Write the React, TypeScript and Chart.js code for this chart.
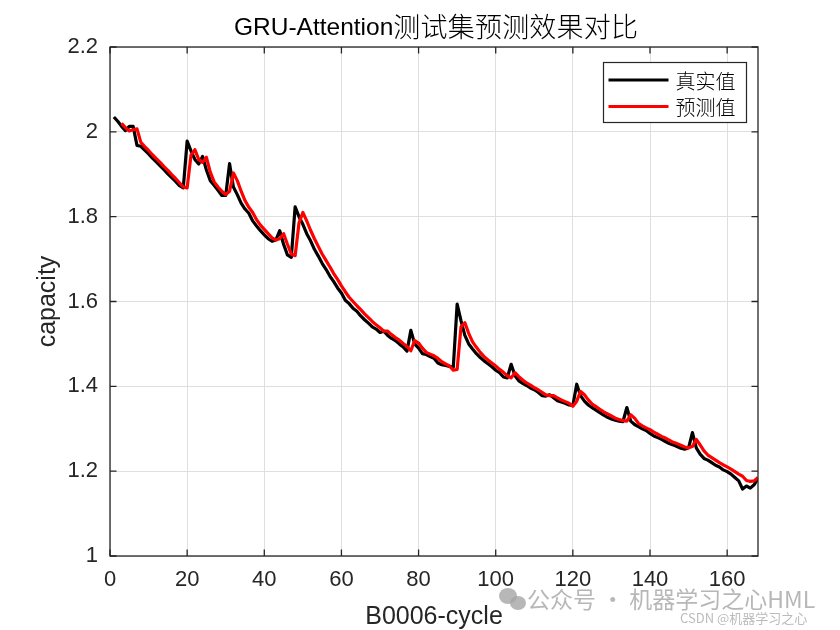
import React, { useEffect, useRef } from "react";
import { Chart, registerables } from "chart.js";

Chart.register(...registerables);

// ---------------- data ----------------
const titleLatin = "GRU-Attention";
const titleCJK = "测试集预测效果对比";
const xAxisLabel = "B0006-cycle";
const yAxisLabel = "capacity";
const seriesNames = ["真实值", "预测值"];
const xRange = [0, 168];
const yRange = [1, 2.2];
const xTickStep = 20;
const yTickStep = 0.2;

const trueCapacity = [
  2.035, 2.025, 2.013, 2.003, 2.013, 2.013, 1.968, 1.966, 1.957, 1.948,
  1.938, 1.929, 1.920, 1.911, 1.901, 1.892, 1.883, 1.873, 1.868, 1.978,
  1.955, 1.935, 1.924, 1.942, 1.910, 1.885, 1.874, 1.862, 1.850, 1.850,
  1.925, 1.870, 1.852, 1.832, 1.818, 1.808, 1.790, 1.778, 1.767, 1.757,
  1.748, 1.742, 1.745, 1.767, 1.735, 1.710, 1.704, 1.823, 1.800, 1.782,
  1.760, 1.743, 1.723, 1.707, 1.690, 1.676, 1.660, 1.647, 1.632, 1.620,
  1.603, 1.595, 1.584, 1.577, 1.566, 1.557, 1.549, 1.540, 1.535, 1.527,
  1.530, 1.520, 1.513, 1.508, 1.500, 1.493, 1.483, 1.532, 1.500, 1.490,
  1.477, 1.475, 1.470, 1.466, 1.455, 1.451, 1.449, 1.447, 1.445, 1.594,
  1.555, 1.520, 1.500, 1.488, 1.477, 1.468, 1.460, 1.453, 1.446, 1.438,
  1.432, 1.422, 1.420, 1.452, 1.425, 1.413, 1.407, 1.402, 1.396, 1.392,
  1.386, 1.378, 1.377, 1.380, 1.373, 1.366, 1.363, 1.360, 1.356, 1.355,
  1.405, 1.378, 1.365, 1.356, 1.350, 1.344, 1.338, 1.332, 1.327, 1.323,
  1.320, 1.318, 1.317, 1.350, 1.318, 1.310, 1.305, 1.300, 1.296, 1.289,
  1.283, 1.279, 1.275, 1.270, 1.265, 1.262, 1.258, 1.254, 1.252, 1.255,
  1.291, 1.255, 1.240, 1.230, 1.226, 1.220, 1.214, 1.210, 1.203, 1.199,
  1.193, 1.185, 1.177, 1.158, 1.165, 1.160, 1.168, 1.183,
];

const predStartCycle = 3;
const predCapacity = [
  2.020, 2.010, 2.002, 2.005, 2.007, 1.975, 1.965, 1.956,
  1.946, 1.937, 1.928, 1.918, 1.909, 1.899, 1.890, 1.880, 1.870, 1.868,
  1.945, 1.958, 1.935, 1.928, 1.940, 1.905, 1.882, 1.870, 1.860, 1.852,
  1.860, 1.903, 1.885, 1.860, 1.838, 1.822, 1.810, 1.793, 1.780, 1.770,
  1.760, 1.750, 1.745, 1.748, 1.760, 1.735, 1.712, 1.708, 1.785, 1.810,
  1.790, 1.768, 1.748, 1.730, 1.712, 1.697, 1.682, 1.666, 1.652, 1.637,
  1.623, 1.610, 1.600, 1.590, 1.581, 1.571, 1.562, 1.553, 1.545, 1.538,
  1.530, 1.530, 1.522, 1.515, 1.509, 1.501, 1.494, 1.484, 1.508, 1.502,
  1.490, 1.480, 1.476, 1.472, 1.466, 1.458, 1.453, 1.448, 1.438, 1.440,
  1.540, 1.550, 1.525, 1.505, 1.492, 1.480, 1.470, 1.462, 1.455, 1.448,
  1.440, 1.433, 1.425, 1.420, 1.432, 1.423, 1.415, 1.408, 1.403, 1.397,
  1.392, 1.386, 1.380, 1.378, 1.378, 1.373, 1.368, 1.364, 1.360, 1.353,
  1.365, 1.388, 1.380, 1.368, 1.358, 1.352, 1.346, 1.340, 1.335, 1.330,
  1.325, 1.322, 1.319, 1.318, 1.333, 1.325, 1.313, 1.307, 1.302, 1.298,
  1.292, 1.287, 1.282, 1.278, 1.273, 1.268, 1.265, 1.261, 1.257, 1.255,
  1.258, 1.275, 1.262, 1.248, 1.238, 1.232, 1.226, 1.220, 1.215, 1.210,
  1.205, 1.199, 1.193, 1.188, 1.178, 1.176, 1.177, 1.185,
];

const watermarkMain = "公众号 · 机器学习之心HML";
const watermarkSmall = "CSDN @机器学习之心";

// ---------------- styles ----------------
const AXIS_COLOR = "#262626";
const GRID_COLOR = "#dfdfdf";
const LATIN = '"Liberation Sans", Arial, sans-serif';
const CJK = '"Noto Sans CJK SC", "Noto Sans", sans-serif';

const titlePlugin = {
  id: "matlabTitle",
  afterDraw(chart: any) {
    const { ctx, chartArea: a } = chart;
    ctx.save();
    ctx.fillStyle = "#000";
    ctx.textBaseline = "alphabetic";
    ctx.textAlign = "left";
    ctx.font = `24.5px ${LATIN}`;
    const latinW = ctx.measureText(titleLatin).width;
    const cjkAdv = 27.2;
    const totalW = latinW + cjkAdv * titleCJK.length;
    const cx = (a.left + a.right) / 2 + 2;
    let x = cx - totalW / 2;
    const baseY = 35;
    ctx.fillText(titleLatin, x, baseY);
    x += latinW;
    ctx.font = `300 27px ${CJK}`;
    for (const ch of titleCJK) {
      const w = ctx.measureText(ch).width;
      ctx.fillText(ch, x + (cjkAdv - w) / 2, baseY + 2);
      x += cjkAdv;
    }
    ctx.restore();
  },
};

const framePlugin = {
  id: "matlabFrame",
  afterDraw(chart: any) {
    const { ctx, chartArea: a, scales } = chart;
    const xs = scales.x;
    const ys = scales.y;
    ctx.save();
    ctx.strokeStyle = AXIS_COLOR;
    ctx.lineWidth = 1.3;
    ctx.strokeRect(a.left, a.top, a.right - a.left, a.bottom - a.top);
    const L = 6.5;
    ctx.beginPath();
    xs.ticks.forEach((t: any) => {
      const px = xs.getPixelForValue(t.value);
      ctx.moveTo(px, a.bottom);
      ctx.lineTo(px, a.bottom - L);
      ctx.moveTo(px, a.top);
      ctx.lineTo(px, a.top + L);
    });
    ys.ticks.forEach((t: any) => {
      const py = ys.getPixelForValue(t.value);
      ctx.moveTo(a.left, py);
      ctx.lineTo(a.left + L, py);
      ctx.moveTo(a.right, py);
      ctx.lineTo(a.right - L, py);
    });
    ctx.stroke();
    ctx.restore();
  },
};

const legendPlugin = {
  id: "matlabLegend",
  afterDraw(chart: any) {
    const { ctx } = chart;
    const box = { x: 603.5, y: 62.5, w: 143, h: 60 };
    ctx.save();
    ctx.fillStyle = "#fff";
    ctx.fillRect(box.x, box.y, box.w, box.h);
    ctx.strokeStyle = AXIS_COLOR;
    ctx.lineWidth = 1.2;
    ctx.strokeRect(box.x, box.y, box.w, box.h);
    const rows = [box.y + 17.5, box.y + 44];
    chart.data.datasets.forEach((ds: any, i: number) => {
      const ry = rows[i];
      ctx.strokeStyle = ds.borderColor;
      ctx.lineWidth = 3;
      ctx.beginPath();
      ctx.moveTo(box.x + 5, ry);
      ctx.lineTo(box.x + 65, ry);
      ctx.stroke();
      ctx.fillStyle = "#000";
      ctx.font = `300 20px ${CJK}`;
      ctx.textBaseline = "middle";
      ctx.textAlign = "left";
      ctx.fillText(ds.label, box.x + 72, ry + 1);
    });
    ctx.restore();
  },
};

const watermarkPlugin = {
  id: "watermark",
  afterDraw(chart: any) {
    const { ctx } = chart;
    ctx.save();
    ctx.fillStyle = "rgba(165,165,165,0.8)";
    ctx.beginPath();
    ctx.ellipse(508, 596, 9, 8, 0, 0, Math.PI * 2);
    ctx.fill();
    ctx.beginPath();
    ctx.ellipse(518, 603, 8, 7, 0, 0, Math.PI * 2);
    ctx.fill();
    ctx.font = `23px ${CJK}`;
    ctx.textBaseline = "middle";
    ctx.textAlign = "left";
    ctx.fillText(watermarkMain, 527, 599);
    ctx.fillStyle = "rgba(170,170,170,0.8)";
    ctx.font = `13px ${CJK}`;
    ctx.fillText(watermarkSmall, 680, 618);
    ctx.restore();
  },
};

export default function App() {
  const ref = useRef<HTMLCanvasElement | null>(null);

  useEffect(() => {
    document.body.style.margin = "0";
    const canvas = ref.current;
    if (!canvas) return;

    const trueData = trueCapacity.map((v, i) => ({ x: i + 1, y: v }));
    const predData = predCapacity.map((v, i) => ({ x: i + predStartCycle, y: v }));

    const chart = new Chart(canvas, {
      type: "line",
      data: {
        datasets: [
          {
            label: seriesNames[0],
            data: trueData,
            borderColor: "#000000",
            backgroundColor: "#000000",
            borderWidth: 3.2,
            pointRadius: 0,
            tension: 0,
            borderJoinStyle: "round",
            order: 2,
          },
          {
            label: seriesNames[1],
            data: predData,
            borderColor: "#ff0000",
            backgroundColor: "#ff0000",
            borderWidth: 3.2,
            pointRadius: 0,
            tension: 0,
            borderJoinStyle: "round",
            order: 1,
          },
        ],
      },
      options: {
        animation: false,
        responsive: false,
        devicePixelRatio: 1,
        layout: { padding: { left: 0, top: 47, right: 82, bottom: 0 } },
        plugins: {
          legend: { display: false },
          title: { display: false },
          tooltip: { enabled: false },
        },
        scales: {
          x: {
            type: "linear",
            min: xRange[0],
            max: xRange[1],
            afterFit: (s: any) => {
              s.height = 74;
            },
            border: { display: false },
            grid: { color: GRID_COLOR, lineWidth: 1, drawTicks: false },
            ticks: {
              stepSize: xTickStep,
              includeBounds: false,
              padding: 11,
              color: AXIS_COLOR,
              font: { family: LATIN, size: 22 },
              maxRotation: 0,
            },
            title: {
              display: true,
              text: xAxisLabel,
              color: AXIS_COLOR,
              font: { family: LATIN, size: 25, lineHeight: 1 },
              padding: { top: 0, bottom: 0 },
            },
          },
          y: {
            type: "linear",
            min: yRange[0],
            max: yRange[1],
            afterFit: (s: any) => {
              s.width = 110;
            },
            border: { display: false },
            grid: { color: GRID_COLOR, lineWidth: 1, drawTicks: false },
            ticks: {
              stepSize: yTickStep,
              includeBounds: false,
              padding: 12,
              color: AXIS_COLOR,
              font: { family: LATIN, size: 22 },
              callback: (v: any) => String(Math.round(Number(v) * 10) / 10),
            },
            title: {
              display: true,
              text: yAxisLabel,
              color: AXIS_COLOR,
              font: { family: LATIN, size: 25, lineHeight: 1 },
              padding: { top: 36, bottom: 0 },
            },
          },
        },
      },
      plugins: [framePlugin, legendPlugin, titlePlugin, watermarkPlugin],
    } as any);

    return () => chart.destroy();
  }, []);

  return (
    <canvas
      ref={ref}
      width={840}
      height={630}
      style={{ display: "block", width: 840, height: 630 }}
    />
  );
}
